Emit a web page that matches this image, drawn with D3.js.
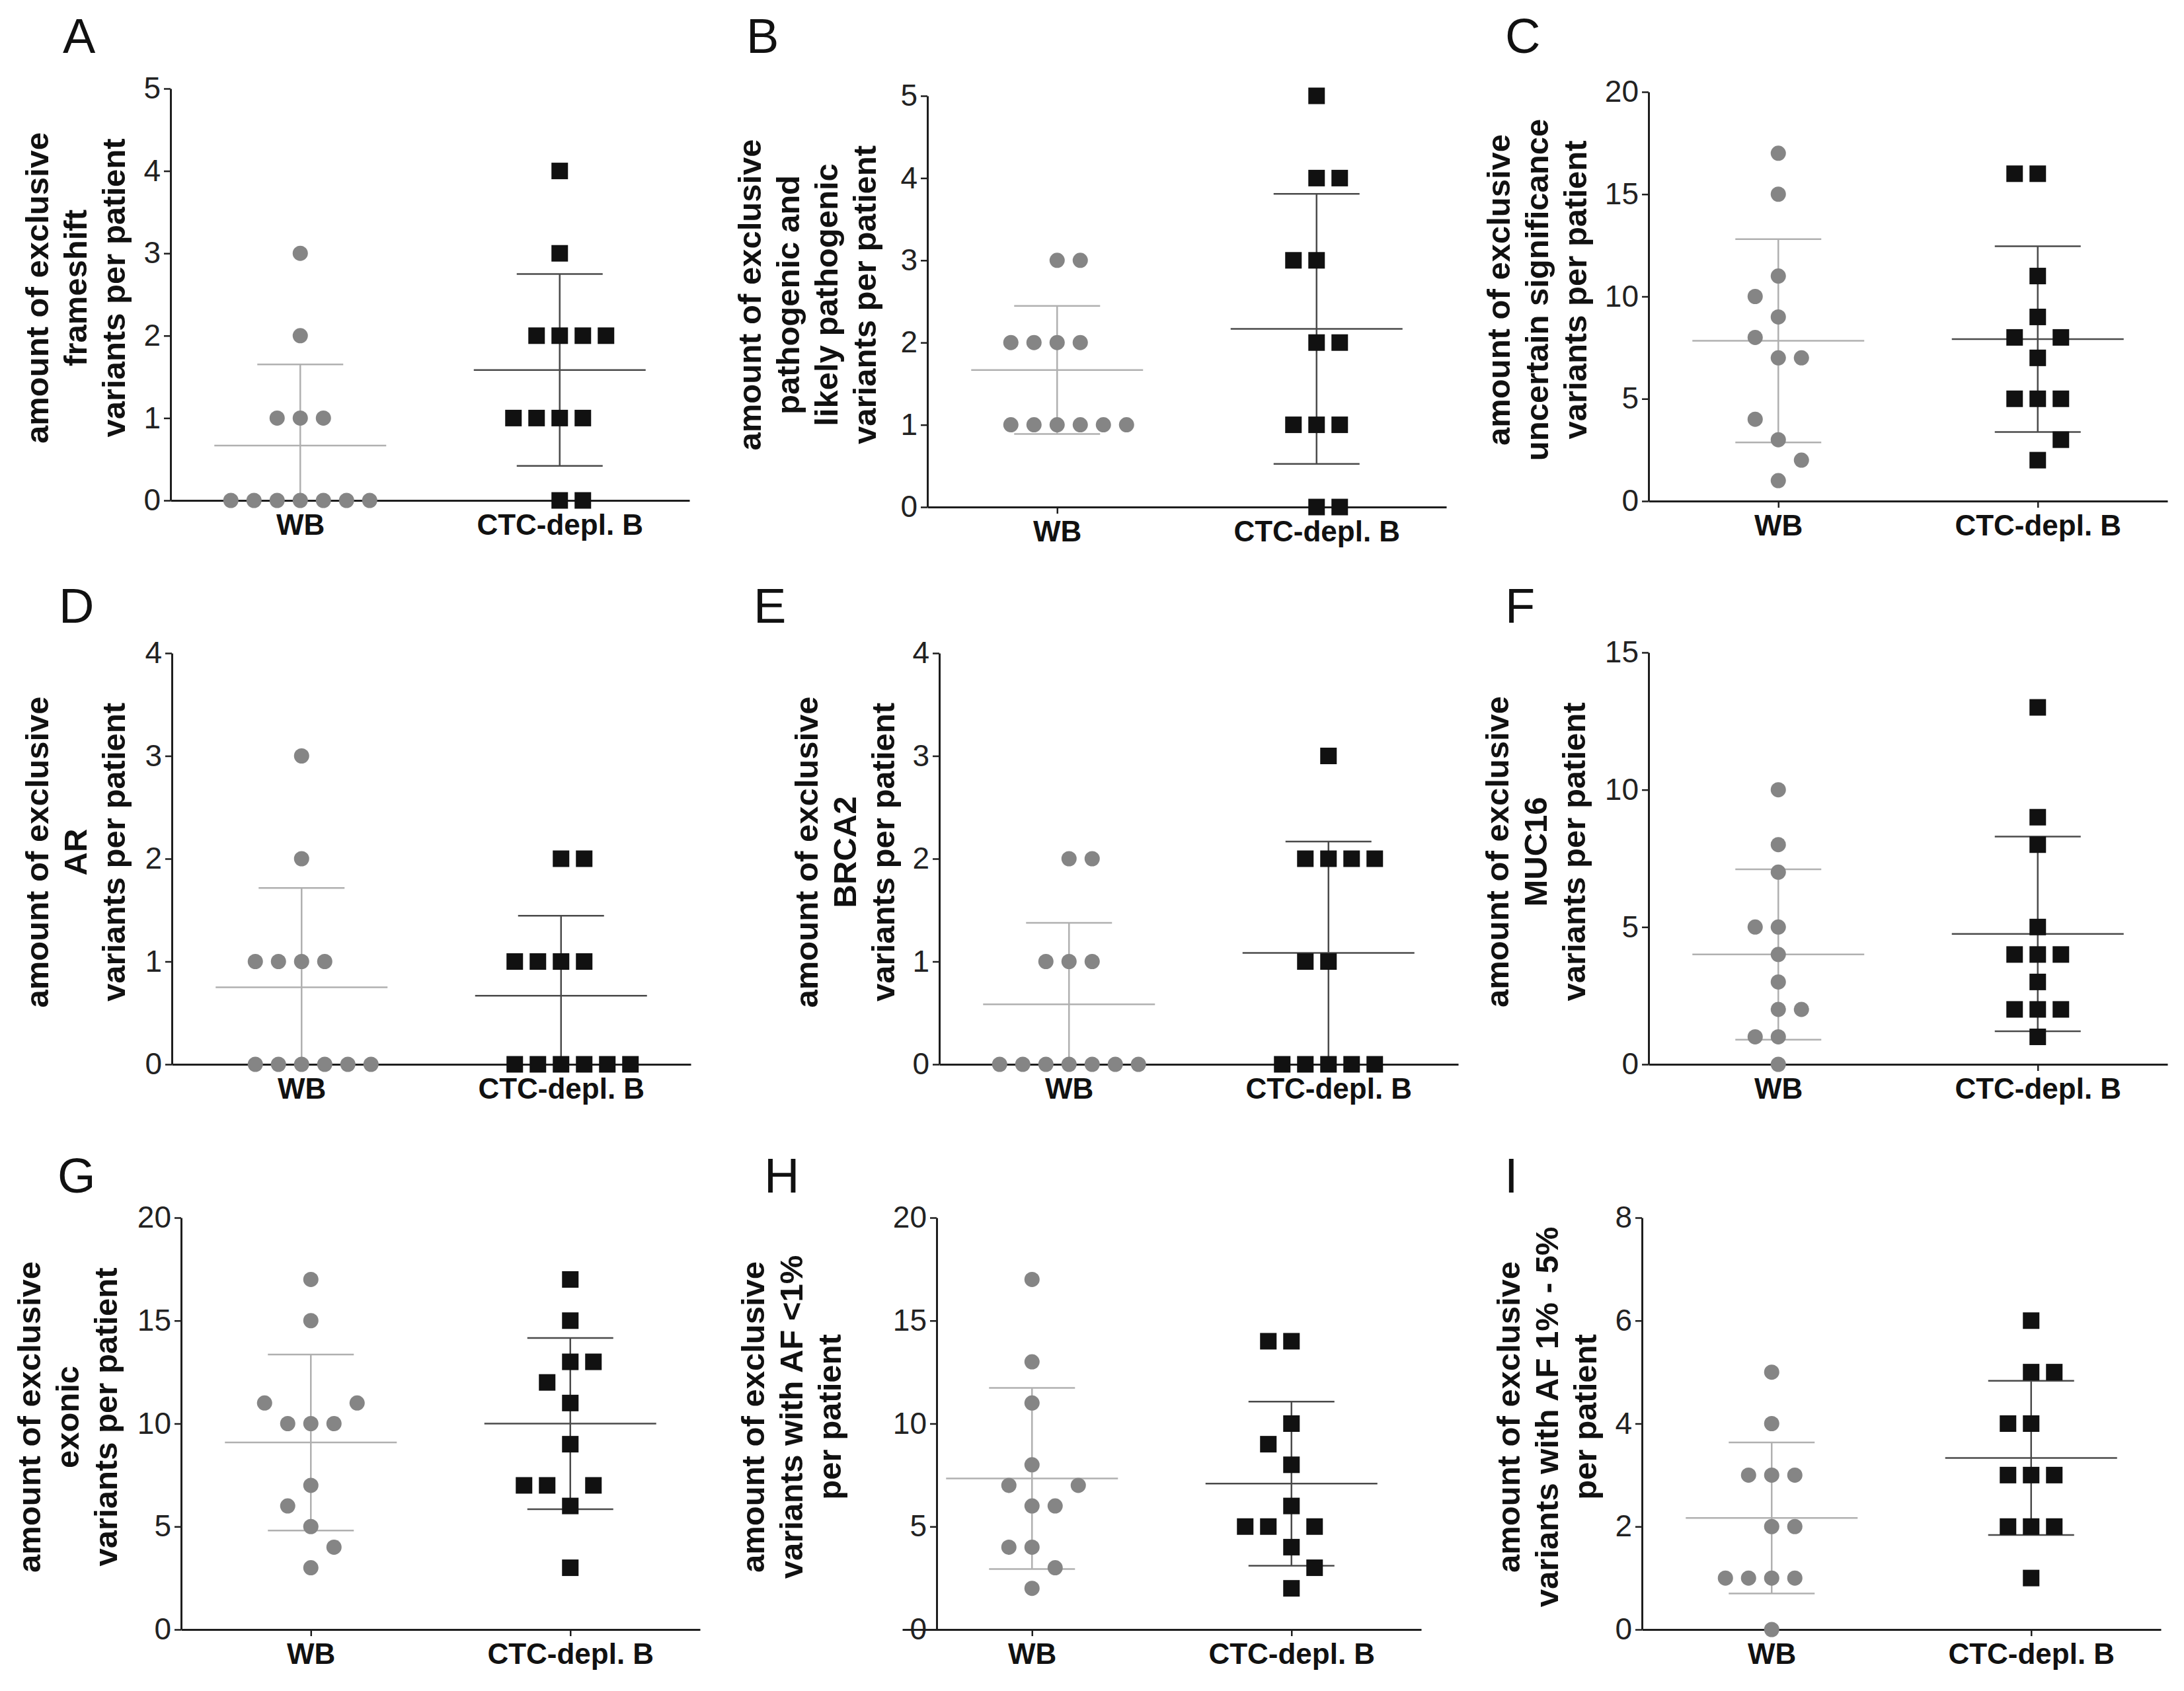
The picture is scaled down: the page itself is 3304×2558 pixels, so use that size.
<!DOCTYPE html>
<html><head><meta charset="utf-8">
<script src="https://cdn.jsdelivr.net/npm/d3@7"></script>
<style>html,body{margin:0;padding:0;background:#fff;} svg{display:block;}</style>
</head><body>
<svg id="chart" width="3304" height="2558"></svg>
<script>
// ---------------- data ----------------
const categories = ["WB", "CTC-depl. B"];
const panelLetters = ["A", "B", "C", "D", "E", "F", "G", "H", "I"];
const yLabelLines = [
  ["amount of exclusive", "frameshift", "variants per patient"],
  ["amount of exclusive", "pathogenic and", "likely pathogenic", "variants per patient"],
  ["amount of exclusive", "uncertain significance", "variants per patient"],
  ["amount of exclusive", "AR", "variants per patient"],
  ["amount of exclusive", "BRCA2", "variants per patient"],
  ["amount of exclusive", "MUC16", "variants per patient"],
  ["amount of exclusive", "exonic", "variants per patient"],
  ["amount of exclusive", "variants with AF <1%", "per patient"],
  ["amount of exclusive", "variants with AF 1% - 5%", "per patient"]
];
const yMaxValues = [5, 5, 20, 4, 4, 15, 20, 20, 8];
const yTickSteps = [1, 1, 5, 1, 1, 5, 5, 5, 2];

const wbA  = [3, 2, 1, 1, 1, 0, 0, 0, 0, 0, 0, 0];
const ctcA = [4, 3, 2, 2, 2, 2, 1, 1, 1, 1, 0, 0];
const wbB  = [3, 3, 2, 2, 2, 2, 1, 1, 1, 1, 1, 1];
const ctcB = [5, 4, 4, 3, 3, 2, 2, 1, 1, 1, 0, 0];
const wbC  = [17, 15, 11, 10, 9, 8, 7, 7, 4, 3, 2, 1];
const ctcC = [16, 16, 11, 9, 8, 8, 7, 5, 5, 5, 3, 2];
const wbD  = [3, 2, 1, 1, 1, 1, 0, 0, 0, 0, 0, 0];
const ctcD = [2, 2, 1, 1, 1, 1, 0, 0, 0, 0, 0, 0];
const wbE  = [2, 2, 1, 1, 1, 0, 0, 0, 0, 0, 0, 0];
const ctcE = [3, 2, 2, 2, 2, 1, 1, 0, 0, 0, 0, 0];
const wbF  = [10, 8, 7, 5, 5, 4, 3, 2, 2, 1, 1, 0];
const ctcF = [13, 9, 8, 5, 4, 4, 4, 3, 2, 2, 2, 1];
const wbG  = [17, 15, 11, 11, 10, 10, 10, 7, 6, 5, 4, 3];
const ctcG = [17, 15, 13, 13, 12, 11, 9, 7, 7, 7, 6, 3];
const wbH  = [17, 13, 11, 8, 7, 7, 6, 6, 4, 4, 3, 2];
const ctcH = [14, 14, 10, 9, 8, 6, 5, 5, 5, 4, 3, 2];
const wbI  = [5, 4, 3, 3, 3, 2, 2, 1, 1, 1, 1, 0];
const ctcI = [6, 5, 5, 4, 4, 3, 3, 3, 2, 2, 2, 1];

const wbSeries  = [wbA, wbB, wbC, wbD, wbE, wbF, wbG, wbH, wbI];
const ctcSeries = [ctcA, ctcB, ctcC, ctcD, ctcE, ctcF, ctcG, ctcH, ctcI];

// ---------------- layout (positions only) ----------------
const layout = [
  {x0: 258,  yAxisX: 258,  top: 134,  bottom: 757,  letterX: 95,   letterY: 80,   labelX: 175},
  {x0: 1403, yAxisX: 1403, top: 145,  bottom: 767,  letterX: 1129, letterY: 80,   labelX: 1311},
  {x0: 2494, yAxisX: 2494, top: 139,  bottom: 758,  letterX: 2277, letterY: 80,   labelX: 2386},
  {x0: 260,  yAxisX: 260,  top: 988,  bottom: 1610, letterX: 89,   letterY: 942,  labelX: 175},
  {x0: 1421, yAxisX: 1421, top: 988,  bottom: 1610, letterX: 1140, letterY: 942,  labelX: 1339},
  {x0: 2494, yAxisX: 2494, top: 987,  bottom: 1610, letterX: 2277, letterY: 942,  labelX: 2384},
  {x0: 274,  yAxisX: 274,  top: 1842, bottom: 2465, letterX: 87,   letterY: 1804, labelX: 163},
  {x0: 1365, yAxisX: 1417, top: 1842, bottom: 2465, letterX: 1156, letterY: 1804, labelX: 1258},
  {x0: 2484, yAxisX: 2484, top: 1842, bottom: 2465, letterX: 2276, letterY: 1804, labelX: 2401}
];

const FONT = "'Liberation Sans', Arial, Helvetica, sans-serif";
const AXIS_LEN = 785;
const SLOT = 35, CIRCLE = 23, SQUARE = 25, COLLIDE = 36;
const LINE_GAP = 58;
const colors = {
  wbMark: "#858585", ctcMark: "#111111",
  wbErr: "#b0b0b0", ctcErr: "#4a4a4a", axis: "#1e1e1e"
};

const svg = d3.select("#chart");
svg.append("rect").attr("width", 3304).attr("height", 2558).attr("fill", "#fff");

// column-scatter spreading (GraphPad-like): points grouped into rows,
// each point takes the nearest free slot; rows alternate their preferred side
function swarm(values, y) {
  const pts = values.map(v => ({v: v, py: y(v)}));
  const order = pts.slice().sort((a, b) => a.v - b.v);
  const placed = [];
  let rowIdx = -1, rowStart = null, rowCnt = 0;
  order.forEach(p => {
    if (rowStart === null || rowStart - p.py >= COLLIDE) {
      rowIdx += 1; rowStart = p.py; rowCnt = 0;
    }
    const pref = rowIdx % 2 === 0 ? 1 : -1;
    const free = s => !placed.some(q => q.slot === s && Math.abs(q.py - p.py) < COLLIDE);
    let slot = null;
    for (let k = 0; slot === null && k < 50; k++) {
      if (k === 0) { if (free(0)) slot = 0; continue; }
      const side = pref * (rowCnt % 2 === 0 ? 1 : -1);
      if (free(side * k)) slot = side * k;
      else if (free(-side * k)) slot = -side * k;
    }
    if (slot !== 0) rowCnt += 1;
    p.slot = slot;
    placed.push(p);
  });
  return pts;
}

panelLetters.forEach((letter, i) => {
  const L = layout[i];
  const yMax = yMaxValues[i];
  const step = yTickSteps[i];
  const y = d3.scaleLinear().domain([0, yMax]).range([L.bottom, L.top]);
  const x = d3.scalePoint().domain(categories).range([L.x0, L.x0 + AXIS_LEN]).padding(0.5);
  const g = svg.append("g");

  // panel letter
  svg.append("text").attr("x", L.letterX).attr("y", L.letterY)
    .attr("font-family", FONT).attr("font-size", 74).attr("fill", "#111")
    .text(letter);

  // y label
  const lines = yLabelLines[i];
  const cy = (L.top + L.bottom) / 2 - 10;
  lines.forEach((t, j) => {
    const cx = L.labelX - (lines.length - 1 - j) * LINE_GAP;
    svg.append("text")
      .attr("transform", `translate(${cx},${cy}) rotate(-90)`)
      .attr("y", 14)
      .attr("text-anchor", "middle")
      .attr("font-family", FONT).attr("font-weight", "bold").attr("font-size", 49)
      .attr("fill", "#111")
      .text(t);
  });

  // error bars (mean ± SD), drawn under the markers
  [wbSeries[i], ctcSeries[i]].forEach((vals, s) => {
    const cx = x(categories[s]);
    const m = d3.mean(vals), sd = d3.deviation(vals);
    const hi = m + sd, lo = m - sd;
    const col = s === 0 ? colors.wbErr : colors.ctcErr;
    const eg = g.append("g").attr("stroke", col).attr("stroke-width", 2.5).attr("fill", "none");
    eg.append("line").attr("x1", cx).attr("x2", cx)
      .attr("y1", y(Math.max(0, lo))).attr("y2", y(Math.min(yMax, hi)));
    if (hi <= yMax) eg.append("line").attr("x1", cx - 65).attr("x2", cx + 65).attr("y1", y(hi)).attr("y2", y(hi));
    if (lo >= 0) eg.append("line").attr("x1", cx - 65).attr("x2", cx + 65).attr("y1", y(lo)).attr("y2", y(lo));
    eg.append("line").attr("x1", cx - 130).attr("x2", cx + 130).attr("y1", y(m)).attr("y2", y(m));
  });

  // axes
  const yAxis = d3.axisLeft(y)
    .tickValues(d3.range(0, yMax + step / 2, step))
    .tickFormat(d3.format("d"))
    .tickSize(10).tickSizeOuter(0).tickPadding(5);
  const ya = g.append("g").attr("transform", `translate(${L.yAxisX},0)`).call(yAxis);
  ya.select(".domain").attr("stroke", colors.axis).attr("stroke-width", 3);
  ya.selectAll(".tick line").attr("stroke", colors.axis).attr("stroke-width", 2.5);
  ya.selectAll(".tick text").attr("font-family", FONT).attr("font-size", 46).attr("fill", "#222");

  const xAxis = d3.axisBottom(x).tickSize(10).tickSizeOuter(0).tickPadding(11);
  const xa = g.append("g").attr("transform", `translate(0,${L.bottom})`).call(xAxis);
  xa.select(".domain").attr("stroke", colors.axis).attr("stroke-width", 3);
  xa.selectAll(".tick line").attr("stroke", colors.axis).attr("stroke-width", 2.5);
  xa.selectAll(".tick text").attr("font-family", FONT).attr("font-weight", "bold")
    .attr("font-size", 44).attr("fill", "#111");

  // markers
  const wbPts = swarm(wbSeries[i], y);
  g.append("g").selectAll("circle").data(wbPts).join("circle")
    .attr("cx", d => x(categories[0]) + d.slot * SLOT)
    .attr("cy", d => d.py)
    .attr("r", CIRCLE / 2)
    .attr("fill", colors.wbMark);

  const ctcPts = swarm(ctcSeries[i], y);
  g.append("g").selectAll("rect").data(ctcPts).join("rect")
    .attr("x", d => x(categories[1]) + d.slot * SLOT - SQUARE / 2)
    .attr("y", d => d.py - SQUARE / 2)
    .attr("width", SQUARE).attr("height", SQUARE)
    .attr("fill", colors.ctcMark);
});
</script>
</body></html>
